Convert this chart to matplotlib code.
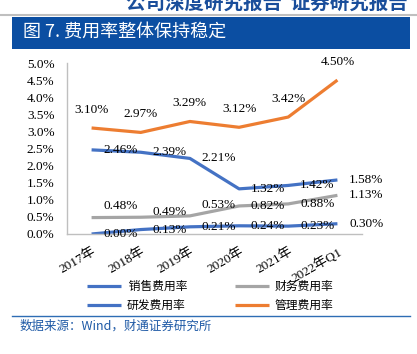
import matplotlib
matplotlib.use("Agg")
import matplotlib.pyplot as plt
from matplotlib.patches import Rectangle
from matplotlib.lines import Line2D

categories = ["2017年", "2018年", "2019年", "2020年", "2021年", "2022年Q1"]
sales = [2.46, 2.39, 2.21, 1.32, 1.42, 1.58]
finance = [0.48, 0.49, 0.53, 0.82, 0.88, 1.13]
rnd = [0.00, 0.13, 0.21, 0.24, 0.23, 0.30]
admin = [3.10, 2.97, 3.29, 3.12, 3.42, 4.50]
yticks = [0.0, 0.5, 1.0, 1.5, 2.0, 2.5, 3.0, 3.5, 4.0, 4.5, 5.0]

SERIF = ["Liberation Serif", "Noto Sans CJK SC"]
CJK = ["Noto Sans CJK SC", "DejaVu Sans"]
BLUE = "#4472C4"
GRAY = "#A5A5A5"
ORANGE = "#ED7D31"

W, H = 417, 354
fig = plt.figure(figsize=(W / 100, H / 100), dpi=100)

def fx(px):
    return px / W

def fy(py):
    return 1 - py / H

# header
fig.text(fx(408), fy(9), "公司深度研究报告  证券研究报告", ha="right", va="baseline",
         fontsize=14, fontweight="bold", color="#1A4E9B", family=CJK)
fig.add_artist(Line2D([0, 1], [fy(14.5), fy(14.5)], color="#BFBFBF", lw=1.5,
                      transform=fig.transFigure))
fig.add_artist(Rectangle((fx(12), fy(49)), fx(410) - fx(12), fy(17) - fy(49),
                         facecolor="#0B4EA2", edgecolor="none", transform=fig.transFigure))
fig.text(fx(23), fy(32), "图 7. 费用率整体保持稳定", ha="left", va="center",
         fontsize=13, color="white", family=CJK)

# footer
fig.add_artist(Line2D([fx(12), fx(410)], [fy(316), fy(316)], color="#2E6DB4", lw=1.0,
                      transform=fig.transFigure))
fig.text(fx(20), fy(326), "数据来源：Wind，财通证券研究所", ha="left", va="center",
         fontsize=9, color="#1F5AA6", family=CJK)

ax = fig.add_axes([fx(67), fy(234), fx(362) - fx(67), fy(63) - fy(234)])
x = list(range(len(categories)))
lw = 2.3
l_sales, = ax.plot(x, sales, color=BLUE, lw=lw, solid_capstyle="butt")
l_fin, = ax.plot(x, finance, color=GRAY, lw=lw, solid_capstyle="butt")
l_rnd, = ax.plot(x, rnd, color=BLUE, lw=lw, solid_capstyle="butt")
l_adm, = ax.plot(x, admin, color=ORANGE, lw=lw, solid_capstyle="butt")

ax.set_xlim(-0.5, len(categories) - 0.5)
ax.set_ylim(0, 5.0)
ax.set_yticks(yticks)
ax.set_yticklabels([f"{v:.1f}%" for v in yticks], family=SERIF, fontsize=9.5)
ax.set_xticks(x)
ax.set_xticklabels(categories, family=SERIF, fontsize=9.5, rotation=30,
                   ha="right", va="top", rotation_mode="anchor")
ax.tick_params(axis="y", length=0, pad=9)
ax.tick_params(axis="x", length=0, pad=8)
for s in ["top", "right"]:
    ax.spines[s].set_visible(False)
for s in ["left", "bottom"]:
    ax.spines[s].set_color("#BFBFBF")
    ax.spines[s].set_linewidth(1.0)
ax.patch.set_alpha(0)

P = 0.72  # px -> pt
lab_kw = dict(textcoords="offset points", ha="center", va="center",
              family=SERIF, fontsize=9.5, color="black", annotation_clip=False)
for i, v in enumerate(admin):
    ax.annotate(f"{v:.2f}%", (i, v), xytext=(0, 18 * P), **lab_kw)
for i, v in enumerate(sales):
    ax.annotate(f"{v:.2f}%", (i, v), xytext=(29 * P, 0), **lab_kw)
fin_up = [12, 5, 11, 0, 0, 0]
for i, v in enumerate(finance):
    ax.annotate(f"{v:.2f}%", (i, v), xytext=(29 * P, fin_up[i] * P), **lab_kw)
for i, v in enumerate(rnd):
    ax.annotate(f"{v:.2f}%", (i, v), xytext=(29 * P, 0), **lab_kw)

fig.legend([l_sales, l_rnd, l_fin, l_adm], [" 销售费用率", "研发费用率", "财务费用率", "管理费用率"],
           loc="center", bbox_to_anchor=(fx(210), fy(296)), ncol=2, frameon=False,
           prop={"family": CJK, "size": 8.5}, handlelength=2.9, handletextpad=0.45,
           columnspacing=4.0, labelspacing=0.55)

fig.savefig("out.png", dpi=100)
